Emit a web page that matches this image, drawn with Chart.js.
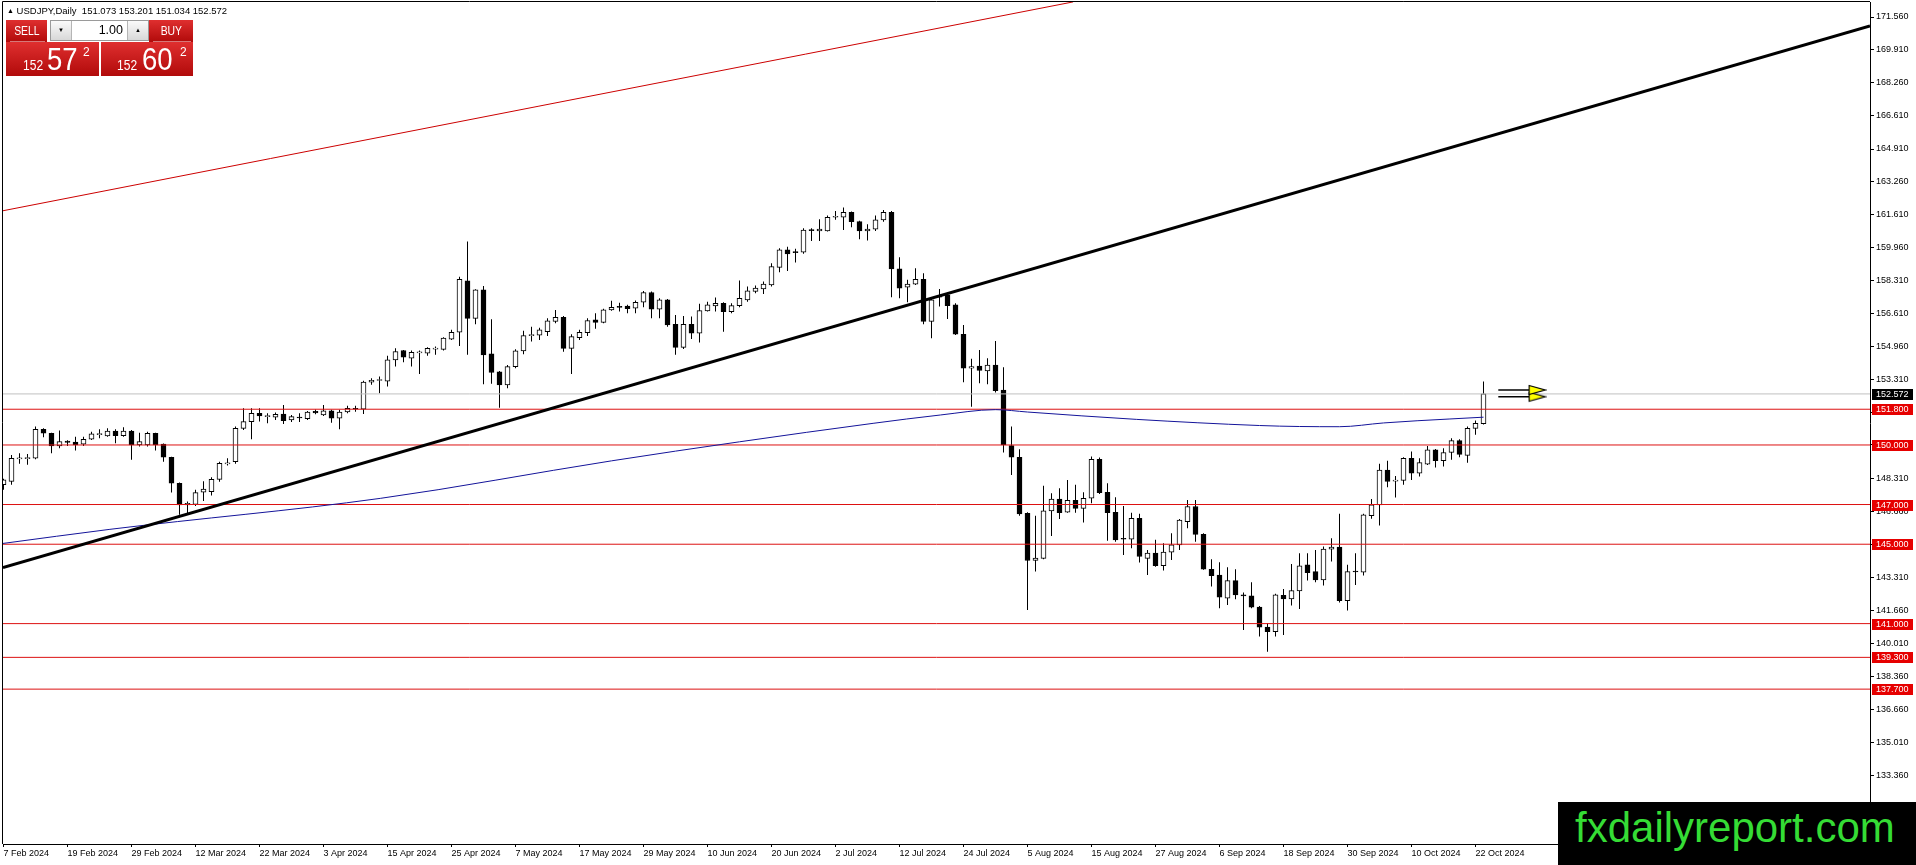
<!DOCTYPE html>
<html>
<head>
<meta charset="utf-8">
<title>USDJPY Daily</title>
<script src="https://cdn.jsdelivr.net/npm/chart.js@4.4.1/dist/chart.umd.min.js"></script>
<style>
html, body { margin: 0; padding: 0; background: #fff; overflow: hidden; }
#wrap { position: relative; width: 1916px; height: 865px; }
#chart { position: absolute; left: 0; top: 0; }
.ov { position: absolute; font-family: 'Liberation Sans', Arial, sans-serif; white-space: nowrap; }
#title { left: 7px; top: 5px; font-size: 9.5px; line-height: 12px; color: #000; }
#title .tri { font-size: 7px; position: relative; top: -1px; }
.red { background: linear-gradient(#df2f2f, #b10a0a); color: #fff; }
.tab { top: 20px; height: 22px; font-size: 13px; line-height: 21px; text-align: center; }
.tab span { display: inline-block; transform: scaleX(0.8); }
.tab:after { content: ''; position: absolute; left: 4px; right: 2px; bottom: 0; height: 1px; background: rgba(255,255,255,0.45); }
#sellTab { left: 6px; width: 41px; }
#buyTab { left: 149px; width: 44px; }
#lot { left: 50px; top: 20px; width: 97px; height: 19px; border: 1px solid #9a9a9a; background: #fff; }
.spin { position: absolute; top: 0; width: 20px; height: 19px; background: linear-gradient(#fafafa, #d8d8d8); font-size: 6px; line-height: 19px; text-align: center; color: #000; }
#dn { left: 0; border-right: 1px solid #b5b5b5; }
#up { right: 0; border-left: 1px solid #b5b5b5; }
#lotval { position: absolute; right: 25px; top: 0; font-size: 12.5px; line-height: 19px; color: #000; }
.quote { top: 42px; height: 34px; }
#sellQ { left: 6px; width: 93px; }
#buyQ { left: 101px; width: 92px; }
.quote span { position: absolute; line-height: 1; transform-origin: left top; }
.qs { font-size: 14px; top: 16px; transform: scaleX(0.86); }
.qb { font-size: 32px; top: 1px; transform: scaleX(0.86); }
.qp { font-size: 12px; top: 4px; }
#brand { left: 1558px; top: 802px; width: 358px; height: 63px; background: #000; }
#brand span { position: absolute; left: 17px; top: 5px; font-size: 42px; line-height: 42px; color: #35dc35; }
</style>
</head>
<body>
<div id="wrap">
  <canvas id="chart" width="1916" height="865"></canvas>
  <div class="ov" id="title"><span class="tri">&#9650;</span> USDJPY,Daily&nbsp; 151.073 153.201 151.034 152.572</div>
  <div class="ov tab red" id="sellTab"><span>SELL</span></div>
  <div class="ov" id="lot"><div class="spin" id="dn">&#9660;</div><div id="lotval">1.00</div><div class="spin" id="up">&#9650;</div></div>
  <div class="ov tab red" id="buyTab"><span>BUY</span></div>
  <div class="ov quote red" id="sellQ"><span class="qs" style="left:17px">152</span><span class="qb" style="left:41px">57</span><span class="qp" style="left:77px">2</span></div>
  <div class="ov quote red" id="buyQ"><span class="qs" style="left:16px">152</span><span class="qb" style="left:41px">60</span><span class="qp" style="left:79px">2</span></div>
  <div class="ov" id="brand"><span>fxdailyreport.com</span></div>
</div>
<script>
// daily bars, 7 Feb 2024 .. 23 Oct 2024
const opens = [
  148.00,148.16,149.30,149.31,149.33,150.79,150.59,149.95,150.19,150.14,
  150.04,150.29,150.52,150.46,150.70,150.47,150.70,150.00,150.00,150.59,
  150.05,149.38,148.07,146.98,147.01,147.62,147.65,148.27,149.05,149.16,
  150.84,151.18,151.60,151.43,151.40,151.56,151.26,151.38,151.32,151.70,
  151.52,151.72,151.35,151.66,151.84,151.80,153.17,153.25,153.22,154.29,
  154.76,154.37,154.64,154.62,154.83,154.82,155.33,155.68,158.27,156.38,
  157.81,154.59,153.68,153.03,153.95,154.74,155.51,155.53,155.71,156.22,
  156.43,154.87,155.41,155.66,156.30,156.18,156.80,156.96,157.00,156.89,
  157.19,157.68,156.84,157.31,156.08,154.92,156.08,155.63,156.75,157.01,
  157.14,156.72,157.02,157.31,157.73,157.86,158.06,158.95,159.83,159.71,
  159.71,160.83,160.78,160.78,161.47,161.47,161.72,161.25,160.78,160.87,
  161.34,161.72,158.87,157.95,158.10,158.35,156.22,157.44,157.56,157.06,
  155.58,153.87,153.98,153.73,154.03,152.77,149.97,149.38,146.56,144.18,
  144.29,146.68,147.27,146.61,147.21,146.81,147.32,149.28,147.62,146.61,
  145.27,145.25,146.31,144.29,144.55,143.92,144.60,144.97,146.14,146.90,
  145.50,143.74,143.45,142.28,143.17,142.45,142.40,141.83,140.82,140.60,
  142.43,142.25,142.65,143.96,143.62,143.20,144.75,144.85,142.16,143.62,
  143.59,146.44,146.98,148.74,148.18,148.21,149.33,148.58,149.03,149.75,
  149.21,149.62,150.22,149.48,150.84,151.073
];
const highs = [
  148.30,149.50,149.58,149.55,150.93,150.84,150.62,150.73,150.24,150.42,
  150.42,150.67,150.79,150.84,150.79,150.89,150.76,150.62,150.67,150.62,
  150.08,149.41,148.11,147.15,147.74,148.17,148.37,149.16,149.33,150.93,
  151.85,151.85,151.85,151.60,151.63,152.02,151.51,151.60,151.71,151.79,
  152.02,151.77,151.77,151.97,151.97,153.24,153.36,153.45,154.49,154.87,
  154.79,154.76,154.76,154.92,154.96,155.43,155.80,158.48,160.25,157.85,
  158.01,156.33,153.73,154.03,154.82,155.75,155.96,155.91,156.38,156.80,
  156.50,155.58,155.80,156.38,156.64,156.86,157.26,157.17,157.06,157.28,
  157.76,157.73,157.39,157.36,156.55,156.50,156.47,157.11,157.22,157.43,
  157.19,157.14,158.28,157.98,158.03,158.23,159.15,159.91,159.99,159.88,
  160.92,160.92,161.37,161.56,161.79,161.96,161.76,161.29,161.12,161.56,
  161.84,161.79,159.46,158.32,158.90,158.65,157.39,157.86,157.68,157.14,
  156.05,154.34,154.79,154.37,155.24,153.92,150.93,149.78,146.61,146.44,
  147.95,147.57,147.82,148.24,147.99,147.62,149.42,149.37,148.07,147.37,
  146.93,146.59,146.53,144.71,145.22,145.05,145.55,146.27,147.23,147.23,
  145.55,144.24,144.09,143.84,143.74,142.57,143.08,141.89,141.02,142.50,
  142.75,144.01,144.55,144.55,144.71,144.88,145.30,146.53,143.96,144.55,
  146.53,147.28,149.05,149.20,148.44,149.38,149.67,149.33,149.95,149.80,
  149.84,150.34,150.29,150.93,151.23,153.201
];
const lows = [
  147.74,147.99,149.05,149.00,149.28,150.39,149.58,149.84,149.95,149.72,
  149.95,150.25,150.34,150.42,150.09,150.42,149.25,149.92,149.92,149.72,
  149.16,147.60,146.48,146.56,146.93,147.18,147.45,148.15,148.97,149.05,
  150.76,150.29,151.18,151.10,151.26,151.06,151.16,151.16,151.26,151.55,
  151.46,151.12,150.79,151.60,151.68,151.56,153.03,152.61,152.94,153.95,
  154.17,153.95,153.58,154.50,154.54,154.76,155.29,154.99,154.54,156.08,
  153.06,153.08,151.88,152.86,153.87,154.57,155.21,155.29,155.49,156.13,
  154.70,153.58,155.29,155.49,155.85,156.13,156.76,156.72,156.63,156.64,
  156.94,156.38,156.38,155.96,154.54,154.84,155.34,155.16,156.72,156.72,
  155.71,156.64,156.94,157.22,157.64,157.61,157.98,158.70,158.77,159.19,
  159.63,160.28,160.28,160.75,161.34,160.83,160.97,160.36,160.30,160.78,
  161.25,157.44,157.39,157.19,158.06,156.08,155.38,156.97,156.35,155.54,
  153.16,151.93,153.11,153.06,152.64,149.62,148.49,146.43,141.69,143.62,
  144.24,145.42,146.27,146.59,146.59,146.09,147.06,147.53,145.18,145.13,
  144.46,144.80,144.08,143.45,143.87,143.67,144.21,144.71,145.80,145.13,
  143.71,142.87,141.77,141.94,142.23,140.68,141.77,140.35,139.58,140.35,
  140.43,141.91,141.74,143.17,143.08,142.92,144.13,142.06,141.66,142.95,
  143.42,146.28,145.94,147.87,147.35,147.99,148.24,148.41,148.99,148.86,
  148.91,149.25,149.38,149.11,150.51,151.034
];
const closes = [
  148.24,149.33,149.32,149.34,150.79,150.59,149.95,150.17,150.13,150.00,
  150.29,150.56,150.57,150.70,150.47,150.70,150.00,150.17,150.59,150.00,
  149.38,148.07,146.98,147.06,147.60,147.78,148.27,149.07,149.10,150.84,
  151.18,151.60,151.46,151.45,151.55,151.23,151.43,151.36,151.66,151.62,
  151.72,151.35,151.66,151.85,151.80,153.17,153.26,153.28,154.29,154.71,
  154.42,154.67,154.67,154.87,154.85,155.38,155.68,158.35,156.38,157.81,
  154.54,153.65,153.03,153.95,154.74,155.51,155.55,155.80,156.25,156.43,
  154.87,155.46,155.68,156.27,156.17,156.81,156.94,156.93,156.87,157.19,
  157.68,156.84,157.31,156.05,154.92,156.08,155.63,156.77,157.06,157.14,
  156.72,157.02,157.39,157.76,157.90,158.11,158.99,159.83,159.63,159.69,
  160.83,160.80,160.88,161.47,161.49,161.72,161.25,160.78,160.88,161.34,
  161.72,158.87,157.90,158.10,158.35,156.22,157.31,157.48,157.02,155.58,
  153.87,153.95,153.75,154.03,152.74,150.00,149.38,146.53,144.18,144.30,
  146.68,147.27,146.59,147.21,146.81,147.31,149.28,147.60,146.59,145.22,
  145.25,146.31,144.38,144.55,143.92,144.60,144.97,146.22,146.90,145.50,
  143.74,143.42,142.33,143.17,142.45,142.40,141.83,140.82,140.60,142.45,
  142.25,142.66,143.91,143.57,143.20,144.76,144.85,142.16,143.62,143.60,
  146.48,146.98,148.74,148.16,148.20,149.33,148.58,149.11,149.75,149.21,
  149.62,150.22,149.53,150.84,151.09,152.572
];

// moving average (bar index, price)
const maBars   = [-0.06, 13.3, 47.1, 76, 92, 108.7, 117.1, 124, 128, 141.6, 157, 162, 167, 172.5, 176.7, 180.8, 185];
const maValues = [145.04, 145.75, 147.31, 149.20, 150.16, 151.09, 151.51, 151.78, 151.66, 151.29, 150.98, 150.93, 150.92, 151.11, 151.22, 151.31, 151.40];

// drawn trend lines (two anchors each)
const trendBars   = [-0.0625, 233.31];
const trendValues = [143.83, 171.11];
const channelBars   = [-0.0625, 133.7];
const channelValues = [161.80, 172.32];

// horizontal levels and current bid
const levels = [151.8, 150.0, 147.0, 145.0, 141.0, 139.3, 137.7];
const bidPrice = 152.572;

// arrows at the right of the last bar
const arrowBars = [186.85, 191.7];
const arrowValues = [152.77, 152.43];

const yTickValues = [171.56,169.91,168.26,166.61,164.91,163.26,161.61,159.96,158.31,156.61,154.96,153.31,
  151.66,150.01,148.31,146.66,145.01,143.31,141.66,140.01,138.36,136.66,135.01,133.36];
const xTickBars = [0,8,16,24,32,40,48,56,64,72,80,88,96,104,112,120,128,136,144,152,160,168,176,184];
const xTickLabels = ['7 Feb 2024','19 Feb 2024','29 Feb 2024','12 Mar 2024','22 Mar 2024','3 Apr 2024',
  '15 Apr 2024','25 Apr 2024','7 May 2024','17 May 2024','29 May 2024','10 Jun 2024','20 Jun 2024',
  '2 Jul 2024','12 Jul 2024','24 Jul 2024','5 Aug 2024','15 Aug 2024','27 Aug 2024','6 Sep 2024',
  '18 Sep 2024','30 Sep 2024','10 Oct 2024','22 Oct 2024'];

const xMin = -0.0625, xMax = 233.3125;
const yMin = 129.898, yMax = 172.316;
const FONT = "'Liberation Sans', Arial, sans-serif";

Chart.defaults.font.family = FONT;
Chart.defaults.font.size = 9;
Chart.defaults.color = '#000';

function arrowHead() {
  const c = document.createElement('canvas');
  c.width = 19; c.height = 12;
  const g = c.getContext('2d');
  g.beginPath();
  g.moveTo(1.5, 1.5); g.lineTo(17.5, 6); g.lineTo(1.5, 10.5); g.closePath();
  g.fillStyle = '#ffff00'; g.fill();
  g.lineWidth = 1.2; g.strokeStyle = '#000'; g.stroke();
  return c;
}
const head = arrowHead();

const flat = v => [{ x: xMin, y: v }, { x: xMax, y: v }];
const pairs = (xs, ys) => xs.map((x, i) => ({ x: x, y: ys[i] }));

const datasets = [];
arrowValues.forEach(v => {
  datasets.push({
    type: 'line', data: [{ x: arrowBars[0], y: v }, { x: arrowBars[1], y: v }],
    borderColor: '#000', borderWidth: 1.5, pointRadius: [0, 9], pointStyle: head, order: 0
  });
});
datasets.push({ type: 'line', data: pairs(channelBars, channelValues), borderColor: '#cc0000', borderWidth: 1, pointRadius: 0, order: 1 });
datasets.push({ type: 'line', data: pairs(trendBars, trendValues), borderColor: '#000', borderWidth: 3, pointRadius: 0, order: 1 });
datasets.push({ type: 'line', data: pairs(maBars, maValues), borderColor: '#14149a', borderWidth: 1, pointRadius: 0,
  cubicInterpolationMode: 'monotone', order: 2 });
levels.forEach(v => {
  datasets.push({ type: 'line', data: flat(v), borderColor: '#dd1111', borderWidth: 1, pointRadius: 0, order: 3 });
});
datasets.push({ type: 'line', data: flat(bidPrice), borderColor: '#c0c0c0', borderWidth: 1, pointRadius: 0, order: 4 });
datasets.push({
  type: 'bar', data: opens.map((o, i) => ({ x: i, y: [o, closes[i]] })),
  backgroundColor: opens.map((o, i) => closes[i] >= o ? '#ffffff' : '#000000'),
  borderColor: '#000', borderWidth: 1, borderSkipped: false, barThickness: 5, minBarLength: 1,
  grouped: false, order: 8
});
datasets.push({
  type: 'bar', data: highs.map((h, i) => ({ x: i, y: [lows[i], h] })),
  backgroundColor: '#000', borderWidth: 0, barThickness: 1, grouped: false, inflateAmount: 0, order: 9
});

const frame = {
  id: 'frame',
  afterDatasetsDraw(chart) {
    const { ctx, chartArea: a } = chart;
    ctx.save();
    ctx.strokeStyle = '#000'; ctx.lineWidth = 1;
    ctx.beginPath();
    ctx.moveTo(a.left - 0.5, a.bottom);
    ctx.lineTo(a.left - 0.5, a.top - 0.5);
    ctx.lineTo(a.right, a.top - 0.5);
    ctx.stroke();
    ctx.restore();
  }
};

const priceTags = {
  id: 'priceTags',
  afterDraw(chart) {
    const { ctx } = chart;
    const y = chart.scales.y;
    ctx.save();
    ctx.font = '9px ' + FONT;
    ctx.textBaseline = 'middle';
    ctx.textAlign = 'left';
    const tag = (v, bg) => {
      const py = Math.round(y.getPixelForValue(v));
      ctx.fillStyle = bg;
      ctx.fillRect(y.left + 2, py - 5, 41, 11);
      ctx.fillStyle = '#fff';
      ctx.fillText(v.toFixed(3), y.left + 6, py + 0.5);
    };
    levels.forEach(v => tag(v, '#e60000'));
    tag(bidPrice, '#000');
    ctx.restore();
  }
};

new Chart(document.getElementById('chart'), {
  type: 'bar',
  data: { datasets: datasets },
  options: {
    responsive: false,
    animation: false,
    events: [],
    layout: { autoPadding: false, padding: { left: 3, top: 2, right: 0, bottom: 0 } },
    plugins: { legend: { display: false }, tooltip: { enabled: false } },
    scales: {
      x: {
        type: 'linear', position: 'bottom', min: xMin, max: xMax, offset: false,
        afterBuildTicks: s => { s.ticks = xTickBars.map(v => ({ value: v })); },
        afterFit: s => { s.height = 21; s.paddingLeft = 0; s.paddingRight = 0; },
        ticks: { autoSkip: false, maxRotation: 0, minRotation: 0, align: 'start', padding: 1,
          callback: (v, i) => xTickLabels[i] },
        grid: { offset: false, drawOnChartArea: false, drawTicks: true, tickLength: 3, color: '#000' },
        border: { display: true, color: '#000', width: 1 }
      },
      y: {
        type: 'linear', position: 'right', min: yMin, max: yMax, beginAtZero: false,
        afterBuildTicks: s => { s.ticks = yTickValues.map(v => ({ value: v })); },
        afterFit: s => { s.width = 46; s.paddingTop = 0; s.paddingBottom = 0; },
        ticks: { autoSkip: false, padding: 2, callback: v => Number(v).toFixed(3) },
        grid: { drawOnChartArea: false, drawTicks: true, tickLength: 4, color: '#000' },
        border: { display: true, color: '#000', width: 1 }
      }
    }
  },
  plugins: [frame, priceTags]
});
</script>
</body>
</html>
